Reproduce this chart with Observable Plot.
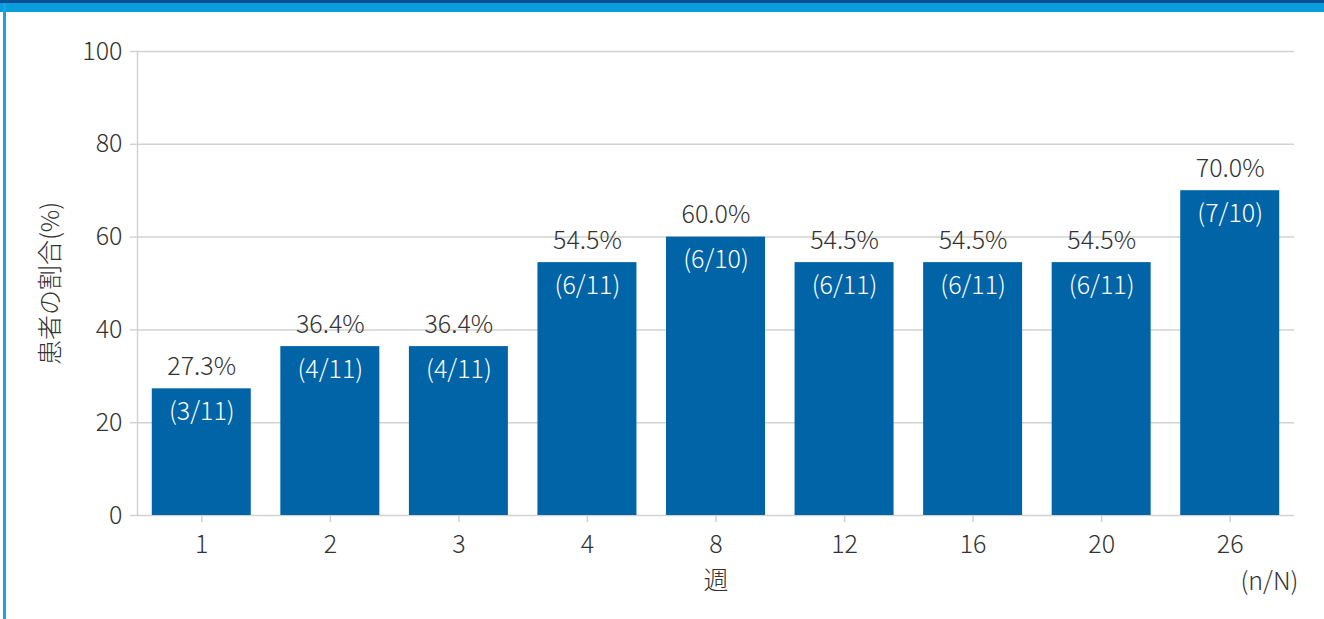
<!DOCTYPE html>
<html>
<head>
<meta charset="utf-8">
<script src="https://cdn.jsdelivr.net/npm/d3@7"></script>
<script src="https://cdn.jsdelivr.net/npm/@observablehq/plot@0.6"></script>
<style>
  html, body { margin: 0; padding: 0; background: #fff; }
  #wrap { position: relative; width: 1324px; height: 619px; overflow: hidden; }
  #topDark { position: absolute; left: 0; top: 0; width: 1324px; height: 3px; background: #0c4f96; }
  #topLight { position: absolute; left: 0; top: 3px; width: 1324px; height: 9px; background: #079edb; }
  #leftLine { position: absolute; left: 3px; top: 3px; width: 3px; height: 616px; background: #1aa3e0; }
  #chart { position: absolute; left: 0; top: 0; }
</style>
</head>
<body>
<div id="wrap">
  <div id="chart"></div>
  <div id="topDark"></div>
  <div id="topLight"></div>
  <div id="leftLine"></div>
</div>
<script>
const weeks = ["1", "2", "3", "4", "8", "12", "16", "20", "26"];
const percents = [27.3, 36.4, 36.4, 54.5, 60.0, 54.5, 54.5, 54.5, 70.0];
const numerators = [3, 4, 4, 6, 6, 6, 6, 6, 7];
const denominators = [11, 11, 11, 11, 10, 11, 11, 11, 10];
const yTicks = [0, 20, 40, 60, 80, 100];
const xTitle = "週";
const yTitle = "患者の割合(%)";
const nNote = "(n/N)";

const data = weeks.map((w, i) => ({
  week: w,
  pct: percents[i],
  pctLabel: percents[i].toFixed(1) + "%",
  nLabel: `(${numerators[i]}/${denominators[i]})`
}));

const FONT = "'Noto Sans CJK JP', 'Noto Sans', sans-serif";
const TEXT = "#333333";
const GRID = "#d2d2d2";
const BAR = "#0064a7";
const FS = 25;

const chart = Plot.plot({
  width: 1324,
  height: 619,
  marginLeft: 137,
  marginRight: 30,
  marginTop: 51,
  marginBottom: 104,
  style: { fontFamily: FONT, fontSize: FS + "px", color: TEXT, background: "transparent", fontWeight: 300 },
  x: { domain: weeks, paddingInner: 0.23, paddingOuter: 0.115, round: false, label: null },
  y: { domain: [0, 100], label: null },
  marks: [
    Plot.gridY(yTicks, { stroke: GRID, strokeOpacity: 1, strokeWidth: 1.5 }),
    Plot.axisY(yTicks, { tickSize: 7, tickPadding: 8, stroke: GRID, strokeWidth: 1.5, fill: TEXT, fontSize: FS, label: null }),
    Plot.frame({ anchor: "left", stroke: GRID, strokeWidth: 1.5 }),
    Plot.barY(data, { x: "week", y: "pct", fill: BAR }),
    Plot.axisX({ tickSize: 7, tickPadding: 13, stroke: GRID, strokeWidth: 1.5, fill: TEXT, fontSize: FS, label: null }),
    Plot.text(data, { x: "week", y: "pct", text: "pctLabel", dy: -22, fill: TEXT, fontSize: FS }),
    Plot.text(data, { x: "week", y: "pct", text: "nLabel", dy: 23, fill: "#ffffff", fontSize: FS }),
    Plot.text([xTitle], { frameAnchor: "bottom", dy: 73, fill: TEXT, fontSize: FS }),
    Plot.text([nNote], { frameAnchor: "bottom-right", textAnchor: "end", dx: 4, dy: 74, fill: TEXT, fontSize: FS }),
    Plot.text([yTitle], { frameAnchor: "left", textAnchor: "middle", rotate: -90, dx: -87, fill: TEXT, fontSize: FS })
  ]
});
document.getElementById("chart").appendChild(chart);
</script>
</body>
</html>
